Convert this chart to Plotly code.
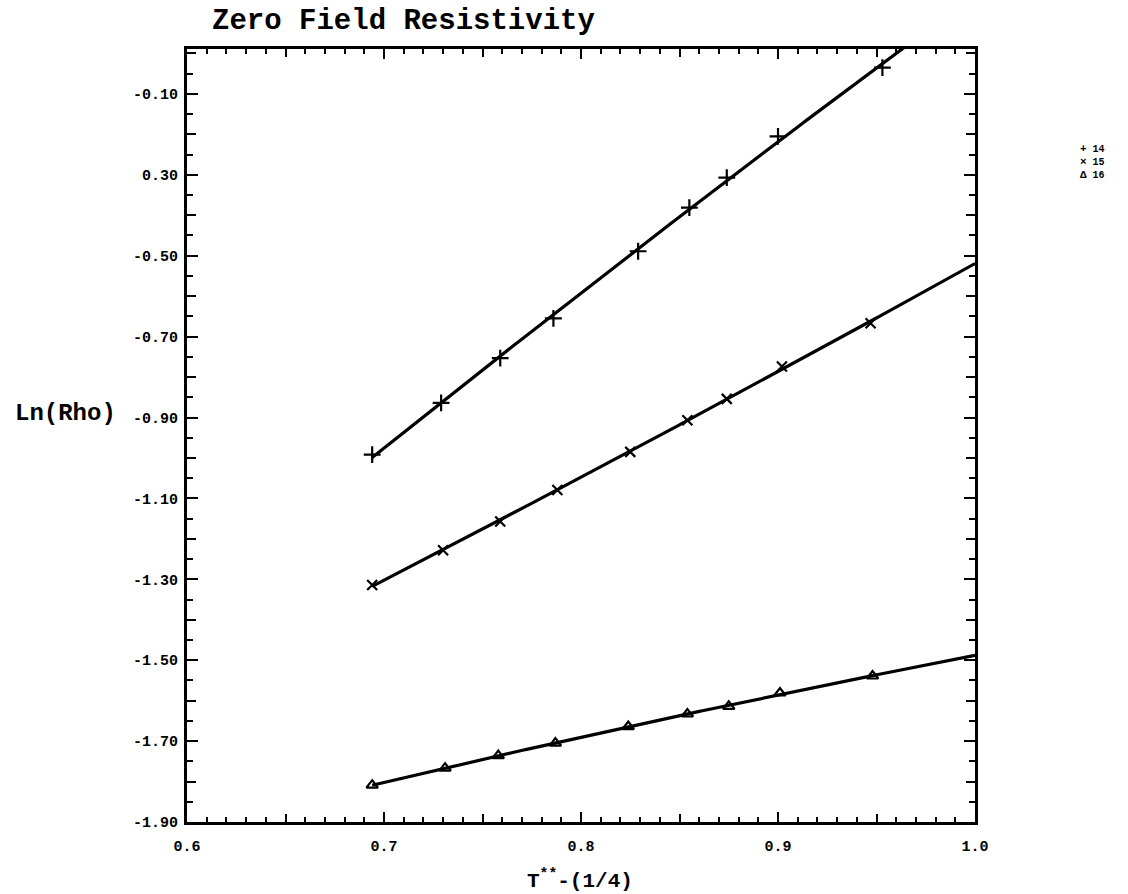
import numpy as np
import plotly.graph_objects as go

# T**-(1/4) and Ln(Rho) for the three samples
x_14 = [0.694, 0.729, 0.759, 0.786, 0.829, 0.855, 0.874, 0.900, 0.953]
rho_14 = [-0.992, -0.864, -0.753, -0.655, -0.489, -0.381, -0.307, -0.205, -0.035]
x_15 = [0.694, 0.730, 0.759, 0.788, 0.825, 0.854, 0.874, 0.902, 0.947]
rho_15 = [-1.314, -1.228, -1.157, -1.079, -0.985, -0.907, -0.854, -0.774, -0.667]
x_16 = [0.694, 0.731, 0.758, 0.787, 0.824, 0.854, 0.875, 0.901, 0.948]
rho_16 = [-1.809, -1.767, -1.736, -1.705, -1.664, -1.633, -1.614, -1.581, -1.539]

samples = ["14", "15", "16"]
symbols = ["cross-thin", "x-thin", "triangle-up-open"]
legend_glyphs = ["+", "×", "Δ"]

# labelled ticks
x_ticks = [0.6, 0.7, 0.8, 0.9, 1.0]
x_ticktext = ["0.6", "0.7", "0.8", "0.9", "1.0"]
y_ticks = [-1.9, -1.7, -1.5, -1.3, -1.1, -0.9, -0.7, -0.5, -0.3, -0.1]
y_ticktext = ["-1.90", "-1.70", "-1.50", "-1.30", "-1.10",
              "-0.90", "-0.70", "-0.50", "0.30", "-0.10"]
# unlabelled intermediate ticks
x_mid_ticks = [0.65, 0.75, 0.85, 0.95]
y_mid_ticks = [-1.8, -1.6, -1.4, -1.2, -1.0, -0.8, -0.6, -0.4, -0.2, 0.0]

X_RANGE = [0.6, 1.0]
Y_RANGE = [-1.9, 0.011]
FONT = "Liberation Mono"

fig = go.Figure()

series = [(x_14, rho_14), (x_15, rho_15), (x_16, rho_16)]
for (xs, ys), sym, name in zip(series, symbols, samples):
    # smooth fitted curve from the first point out to the right edge
    coef = np.polyfit(xs, ys, 2)
    xf = np.linspace(xs[0], X_RANGE[1], 200)
    fig.add_trace(go.Scatter(
        x=xf, y=np.polyval(coef, xf), mode="lines",
        line=dict(color="black", width=3.2), showlegend=False, hoverinfo="skip"))
    fig.add_trace(go.Scatter(
        x=xs, y=ys, mode="markers", name=name, showlegend=False,
        marker=dict(symbol=sym, size=12 if sym == "cross-thin" else 10,
                    color="black", line=dict(color="black", width=2.2))))

# carrier for the overlaid tick-only axes
fig.add_trace(go.Scatter(x=X_RANGE, y=Y_RANGE, xaxis="x2", yaxis="y2",
                         mode="markers", marker=dict(opacity=0),
                         showlegend=False, hoverinfo="skip"))

tickfont = dict(family=FONT, size=15, color="black", weight="bold")

fig.update_layout(
    xaxis=dict(
        range=X_RANGE, tickmode="array", tickvals=x_ticks, ticktext=x_ticktext,
        showline=True, linecolor="black", linewidth=3, mirror="allticks",
        ticks="inside", tickcolor="black", tickwidth=2, ticklen=10,
        ticklabelstandoff=8, showgrid=False, zeroline=False, tickfont=tickfont,
        minor=dict(dtick=0.01, tick0=0.6, ticks="inside", ticklen=5,
                   tickwidth=2, tickcolor="black"),
    ),
    yaxis=dict(
        range=Y_RANGE, tickmode="array", tickvals=y_ticks, ticktext=y_ticktext,
        showline=True, linecolor="black", linewidth=3, mirror="allticks",
        ticks="inside", tickcolor="black", tickwidth=2, ticklen=11,
        ticklabelstandoff=3, showgrid=False, zeroline=False, tickfont=tickfont,
        minor=dict(dtick=0.05, tick0=-1.9, ticks="inside", ticklen=6,
                   tickwidth=2, tickcolor="black"),
    ),
    xaxis2=dict(
        overlaying="x", range=X_RANGE, tickmode="array", tickvals=x_mid_ticks,
        showticklabels=False, showline=False, showgrid=False, zeroline=False,
        mirror="allticks", ticks="inside", tickcolor="black", tickwidth=2, ticklen=8,
    ),
    yaxis2=dict(
        overlaying="y", range=Y_RANGE, tickmode="array", tickvals=y_mid_ticks,
        showticklabels=False, showline=False, showgrid=False, zeroline=False,
        mirror="allticks", ticks="inside", tickcolor="black", tickwidth=2, ticklen=9,
    ),
)

# compact key at the right edge, one line per sample
key_text = "<br>".join(
    f'<span style="font-size:11px">{g}</span> {n}' for g, n in zip(legend_glyphs, samples))

annotations = [
    dict(text="Zero Field Resistivity", x=0.275, y=1.035, xref="paper", yref="paper",
         xanchor="center", yanchor="middle", showarrow=False,
         font=dict(family=FONT, size=29, color="black", weight="bold")),
    dict(text="Ln(Rho)", x=-0.1536, y=0.529, xref="paper", yref="paper",
         xanchor="center", yanchor="middle", showarrow=False,
         font=dict(family=FONT, size=24, color="black", weight="bold")),
    dict(text="T<sup>**</sup>-(1/4)", x=0.4987, y=-0.075, xref="paper", yref="paper",
         xanchor="center", yanchor="middle", showarrow=False,
         font=dict(family=FONT, size=21, color="black", weight="bold")),
    dict(text=key_text, x=1.131, y=1 - (162 - 49) / 773, xref="paper", yref="paper",
         xanchor="left", yanchor="middle", align="left", showarrow=False,
         font=dict(family=FONT, size=10, color="black", weight="bold")),
]

fig.update_layout(
    width=1128, height=894,
    margin=dict(l=187, r=153, t=49, b=72),
    paper_bgcolor="white", plot_bgcolor="white",
    showlegend=False,
    annotations=annotations,
)

fig.write_html("out.html")
